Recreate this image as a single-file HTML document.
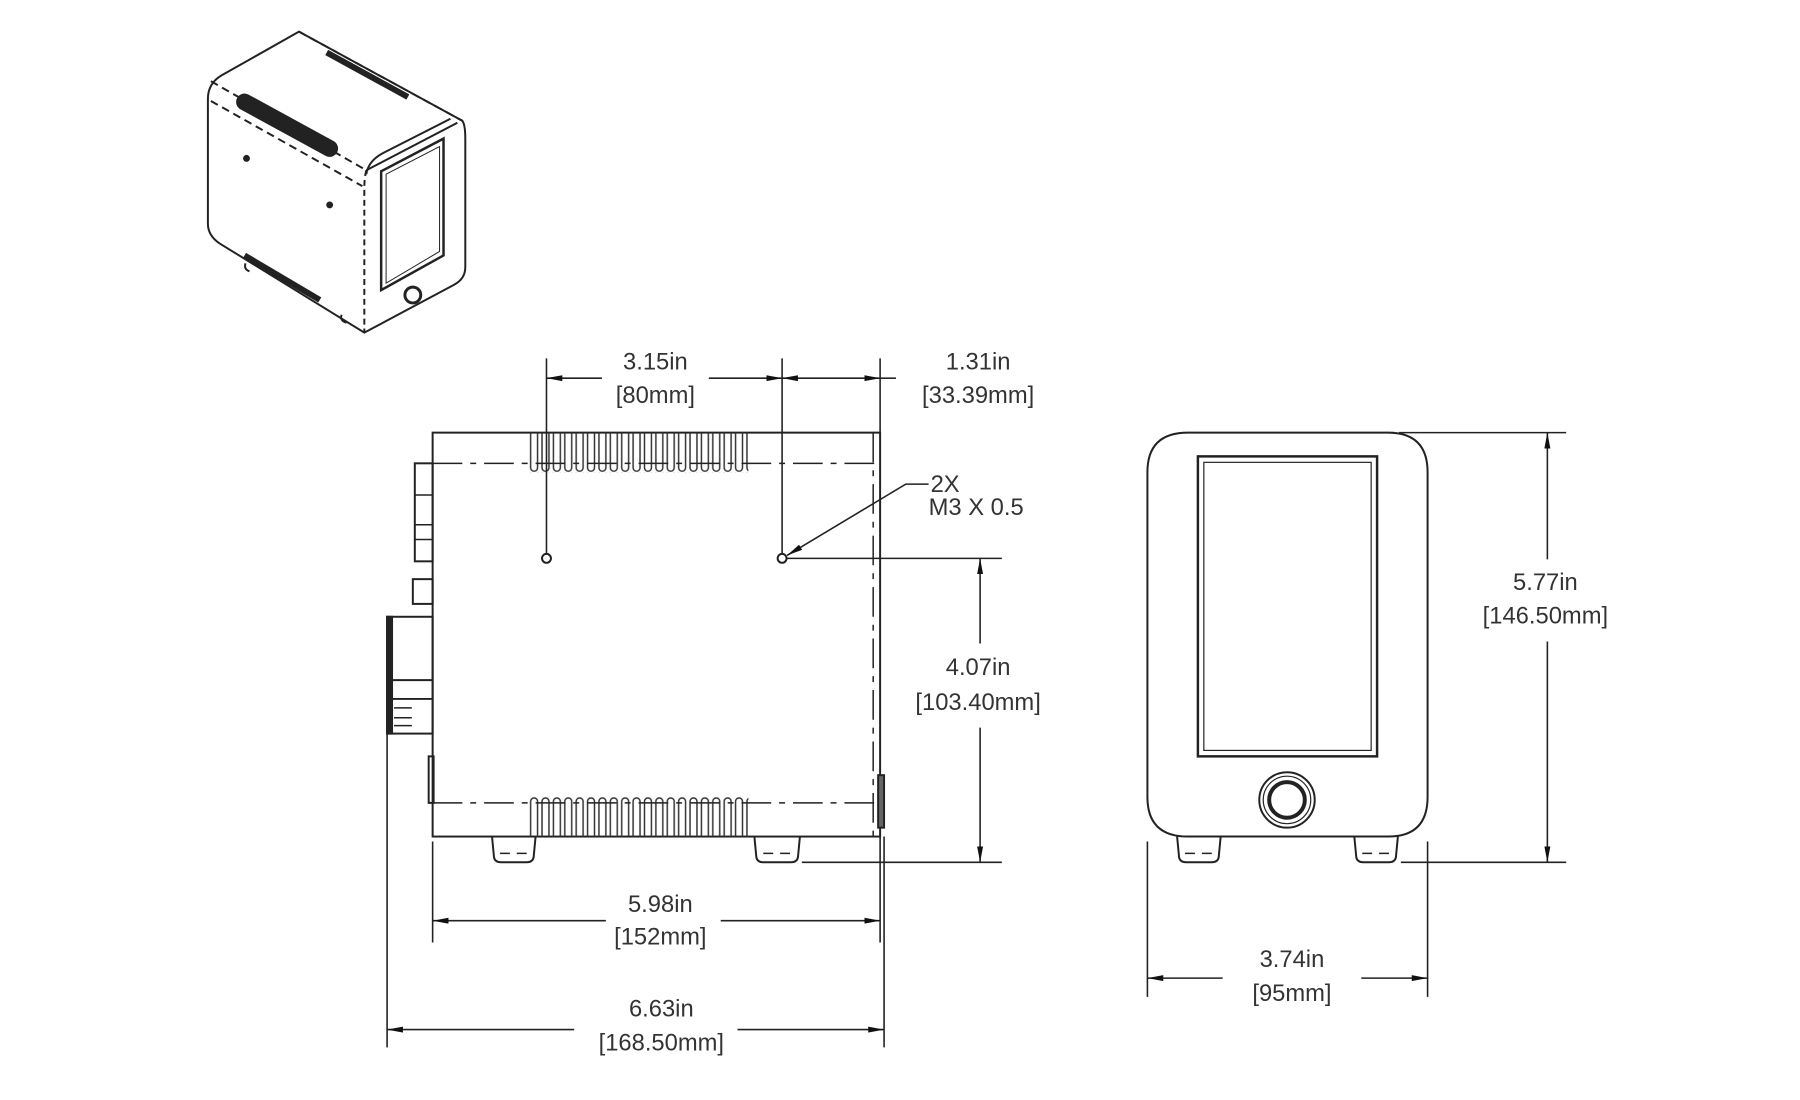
<!DOCTYPE html>
<html><head><meta charset="utf-8"><style>
html,body{margin:0;padding:0;background:#fff;}
svg{display:block;}
text{font-family:"Liberation Sans",sans-serif;font-size:24px;fill:#333;text-anchor:middle;}
</style></head><body>
<svg width="1800" height="1100" viewBox="0 0 1800 1100" xmlns="http://www.w3.org/2000/svg">
<defs>
<marker id="a" viewBox="0 0 16 6" refX="16" refY="3" markerWidth="16" markerHeight="6" markerUnits="userSpaceOnUse" orient="auto-start-reverse">
<path d="M0,0 L16,3 L0,6 z" fill="#111"/></marker>
<pattern id="vent1" x="534" y="437" width="11.5" height="40" patternUnits="userSpaceOnUse">
<rect x="2" y="-6" width="7" height="45" rx="3.5" fill="none" stroke="#333" stroke-width="1.5"/></pattern>
<pattern id="vent2" x="534" y="805" width="11.5" height="40" patternUnits="userSpaceOnUse">
<rect x="2" y="1" width="7" height="45" rx="3.5" fill="none" stroke="#333" stroke-width="1.5"/></pattern>
</defs>
<g transform="scale(0.99)">
<g fill="none" stroke="#222" stroke-width="2">
<!-- ISO VIEW -->
<path d="M224,76 L302,32 L467,122 Q470,126 470,140 L470,270 Q470,282 458,288 L368,336 L222,246 Q210,238 210,226 L210,100 Q210,84 224,76 Z"/>
<path d="M370,172 L462,124" />
<path d="M370,172 Q368,180 368,190 L368,336" stroke-dasharray="6,4"/>
<path d="M213,82 L370,172" stroke-dasharray="8,5"/>
<path d="M213,102 L366,188" stroke-dasharray="8,5"/>
<path d="M302,32 L467,122" stroke-dasharray="8,5"/>
<path d="M370,176 Q372,162 388,154 L455,120" />
<polygon points="385,173 448,140 448,258 385,293" stroke-width="2.5"/>
<polygon points="390,176 444,148 444,254 390,286" stroke-width="1"/>
<circle cx="417" cy="298" r="8" stroke-width="3"/>
<path d="M247,103 L333,150" stroke="#222" stroke-width="17" stroke-linecap="round"/>
<path d="M330,53 L412,98" stroke-width="6"/>
<path d="M247,258 L323,303" stroke-width="6"/>
<circle cx="249" cy="160" r="2.5" fill="#222"/>
<circle cx="333" cy="207" r="2.5" fill="#222"/>
<path d="M248,266 Q246,272 252,274" />
<path d="M345,318 Q343,324 350,326" />

<!-- SIDE VIEW -->
<rect x="437" y="437" width="452" height="408"/>
<rect x="534" y="437" width="222" height="40" fill="url(#vent1)" stroke="none"/>
<rect x="534" y="805" width="222" height="40" fill="url(#vent2)" stroke="none"/>
<path d="M437,468 L889,468 M437,811 L889,811" stroke-width="1.5" stroke-dasharray="30,8,6,8"/>
<path d="M882,437 L882,845" stroke-width="1.5" stroke-dasharray="30,8,6,8"/>
<circle cx="552" cy="564" r="4.5" stroke-width="2"/>
<circle cx="790" cy="564" r="4.5" stroke-width="2"/>
<path d="M497,845 L499,866 Q500,871 506,871 L532,871 Q538,871 539,866 L541,845"/>
<path d="M762,845 L764,866 Q765,871 771,871 L799,871 Q805,871 806,866 L808,845"/>
<path d="M505,862 h10 M522,862 h10 M771,862 h10 M788,862 h10" stroke-width="1.5"/>
<rect x="419" y="468" width="18" height="99"/>
<path d="M419,500 h18 M419,530 h18 M419,545 h18" stroke-width="1.5"/>
<rect x="417" y="585" width="20" height="25"/>
<rect x="391" y="623" width="46" height="118"/>
<path d="M391,687 h46 M391,706 h46" stroke-width="2"/>
<rect x="391" y="623" width="5" height="118" fill="#222"/>
<path d="M398,715 h18 M398,725 h18 M398,733 h18" stroke-width="1.5"/>
<rect x="433" y="764" width="5" height="47"/>
<rect x="887" y="783" width="6" height="53" fill="#666"/>

<g stroke="#222" stroke-width="1.6">
<path d="M552,362 L552,560 M790,362 L790,560 M889,362 L889,437"/>
<path d="M552,382 L608,382" marker-start="url(#a)"/>
<path d="M716,382 L790,382" marker-end="url(#a)"/>
<path d="M790,382 L889,382" marker-start="url(#a)" marker-end="url(#a)"/>
<path d="M889,382 L905,382"/>
<path d="M795,561 L915,489 L938,489" marker-start="url(#a)"/>
<path d="M795,564 L1012,564 M810,871 L1012,871"/>
<path d="M990,564 L990,650" marker-start="url(#a)"/>
<path d="M990,735 L990,871" marker-end="url(#a)"/>
<path d="M437,850 L437,952 M889,845 L889,952 M391,741 L391,1058 M893,845 L893,1058"/>
<path d="M437,930 L612,930" marker-start="url(#a)"/>
<path d="M728,930 L889,930" marker-end="url(#a)"/>
<path d="M391,1040 L580,1040" marker-start="url(#a)"/>
<path d="M745,1040 L893,1040" marker-end="url(#a)"/>
</g>

<!-- FRONT VIEW -->
<path d="M1200,437 L1402,437 Q1442,437 1442,477 L1442,805 Q1442,845 1402,845 L1200,845 Q1159,845 1159,805 L1159,477 Q1159,437 1200,437 Z"/>
<rect x="1210" y="461" width="181" height="303" stroke-width="2.5"/>
<rect x="1216" y="467" width="169" height="291" stroke-width="1.2"/>
<circle cx="1300" cy="808" r="28" stroke-width="2"/>
<circle cx="1300" cy="808" r="24" stroke-width="1.2"/>
<circle cx="1300" cy="808" r="18" stroke-width="4"/>
<path d="M1189,845 L1191,866 Q1192,871 1198,871 L1224,871 Q1230,871 1231,866 L1233,845"/>
<path d="M1368,845 L1370,866 Q1371,871 1377,871 L1403,871 Q1409,871 1410,866 L1412,845"/>
<path d="M1197,862 h10 M1214,862 h10 M1376,862 h10 M1393,862 h10" stroke-width="1.5"/>
<g stroke-width="1.6">
<path d="M1413,437 L1582,437 M1415,871 L1582,871"/>
<path d="M1563,437 L1563,565" marker-start="url(#a)"/>
<path d="M1563,648 L1563,871" marker-end="url(#a)"/>
<path d="M1159,850 L1159,1007 M1442,850 L1442,1007"/>
<path d="M1159,988 L1235,988" marker-start="url(#a)"/>
<path d="M1375,988 L1442,988" marker-end="url(#a)"/>
</g>
</g>

<text x="662" y="373">3.15in</text>
<text x="662" y="407">[80mm]</text>
<text x="988" y="373">1.31in</text>
<text x="988" y="407">[33.39mm]</text>
<text x="940" y="497" style="text-anchor:start">2X</text>
<text x="938" y="520" style="text-anchor:start">M3 X 0.5</text>
<text x="988" y="682">4.07in</text>
<text x="988" y="717">[103.40mm]</text>
<text x="667" y="921">5.98in</text>
<text x="667" y="954">[152mm]</text>
<text x="668" y="1027">6.63in</text>
<text x="668" y="1061">[168.50mm]</text>
<text x="1561" y="596">5.77in</text>
<text x="1561" y="630">[146.50mm]</text>
<text x="1305" y="977">3.74in</text>
<text x="1305" y="1011">[95mm]</text>
</g>
</svg>
</body></html>
